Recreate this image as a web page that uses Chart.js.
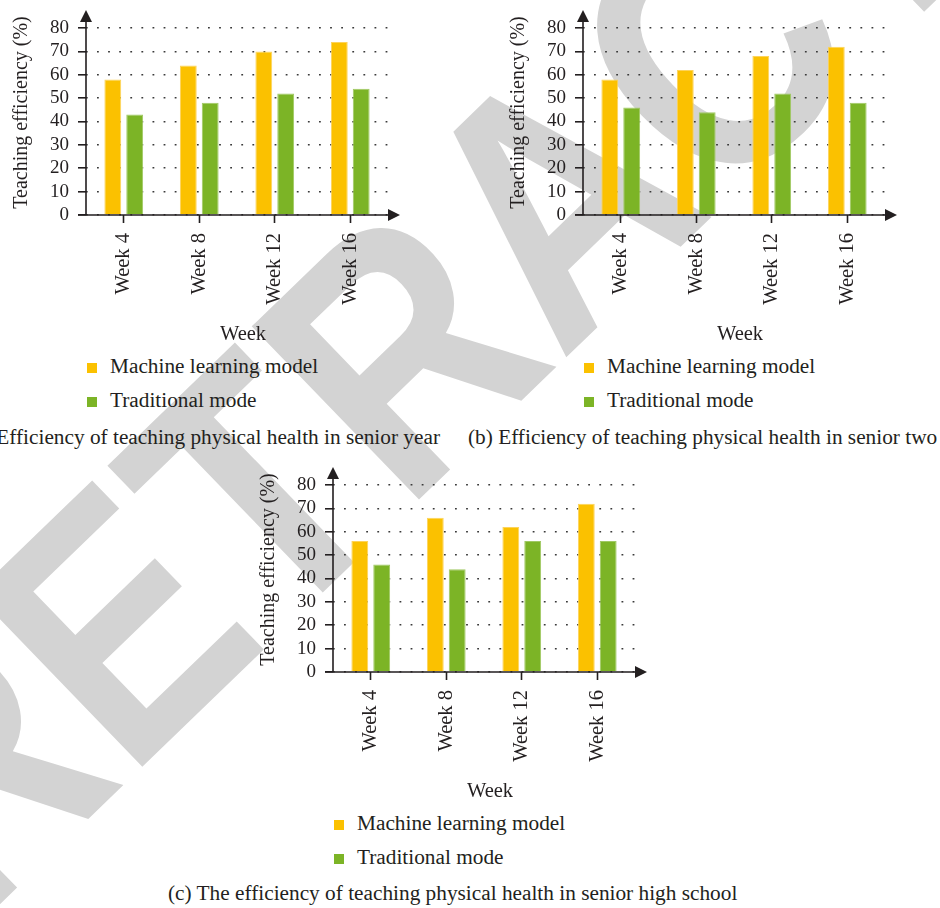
<!DOCTYPE html>
<html>
<head>
<meta charset="utf-8">
<script src="https://cdn.jsdelivr.net/npm/chart.js@4.4.0/dist/chart.umd.min.js"></script>
<style>
  body { margin: 0; width: 940px; height: 908px; overflow: hidden; background: #fff; position: relative;
         font-family: "Liberation Serif", "Times New Roman", serif; color: #231f20; }
  .stamp { position: absolute; left: 555px; top: 200px;
           transform: translate(-50%, -50%) rotate(-44deg) scaleX(0.86);
           font: bold 350px "Liberation Sans", Arial, sans-serif; color: #d3d3d3; white-space: nowrap;
           line-height: 1; z-index: 0; }
  .panel { position: absolute; width: 420px; height: 460px; z-index: 1; }
  .panel canvas { position: absolute; left: 0; top: 0; }
  .item { position: absolute; left: 87px; height: 24px; line-height: 24px; font-size: 21.3px; white-space: nowrap; }
  .item span { display: inline-block; width: 10px; height: 10px; margin-right: 13px; vertical-align: 0px; }
  .caption { position: absolute; top: 425px; height: 24px; line-height: 24px; font-size: 21.3px; white-space: nowrap; z-index: 1; }
</style>
</head>
<body>
<div class="stamp">RETRACTED</div>

<div class="panel" style="left:0px; top:0px;">
  <canvas id="chartA" width="420" height="346"></canvas>
  <div class="item" style="top:354px;"><span style="background:#fbc100"></span>Machine learning model</div>
  <div class="item" style="top:388px;"><span style="background:#7cb426"></span>Traditional mode</div>
</div>
<div class="caption" style="right:500px;">(a) Efficiency of teaching physical health in senior year</div>

<div class="panel" style="left:497px; top:0px;">
  <canvas id="chartB" width="420" height="346"></canvas>
  <div class="item" style="top:354px;"><span style="background:#fbc100"></span>Machine learning model</div>
  <div class="item" style="top:388px;"><span style="background:#7cb426"></span>Traditional mode</div>
</div>
<div class="caption" style="left:468px;">(b) Efficiency of teaching physical health in senior two</div>

<div class="panel" style="left:247px; top:457px;">
  <canvas id="chartC" width="420" height="346"></canvas>
  <div class="item" style="top:354px;"><span style="background:#fbc100"></span>Machine learning model</div>
  <div class="item" style="top:388px;"><span style="background:#7cb426"></span>Traditional mode</div>
</div>
<div class="caption" style="left:168px; top:881px;">(c) The efficiency of teaching physical health in senior high school</div>

<script>
var weeks = ['Week 4', 'Week 8', 'Week 12', 'Week 16'];
var yTicks = [0, 10, 20, 30, 40, 50, 60, 70, 80];

// senior year
var mlSenior = [58, 64, 70, 74];
var tradSenior = [43, 48, 52, 54];
// senior two
var mlTwo = [58, 62, 68, 72];
var tradTwo = [46, 44, 52, 48];
// senior high school
var mlHigh = [56, 66, 62, 72];
var tradHigh = [46, 44, 56, 56];

var ink = '#231f20';
var serif = '"Liberation Serif", "Times New Roman", serif';

// axis lines with arrow heads plus the two axis titles
var axesPlugin = {
    id: 'axes',
    afterDatasetsDraw: function(chart) {
        var ctx = chart.ctx;
        var a = chart.chartArea;
        var xEnd = a.right + 12;   // arrow tip on x
        var yEnd = a.top - 18;     // arrow tip on y
        ctx.save();
        ctx.strokeStyle = ink;
        ctx.fillStyle = ink;
        ctx.lineWidth = 1.6;
        ctx.beginPath();
        ctx.moveTo(a.left - 8, a.bottom);
        ctx.lineTo(a.right, a.bottom);
        ctx.moveTo(a.left, a.bottom);
        ctx.lineTo(a.left, yEnd + 11);
        ctx.stroke();

        ctx.beginPath();
        ctx.moveTo(xEnd, a.bottom);
        ctx.lineTo(xEnd - 12, a.bottom - 6);
        ctx.lineTo(xEnd - 12, a.bottom + 6);
        ctx.closePath();
        ctx.fill();

        ctx.beginPath();
        ctx.moveTo(a.left, yEnd);
        ctx.lineTo(a.left - 6, yEnd + 12);
        ctx.lineTo(a.left + 6, yEnd + 12);
        ctx.closePath();
        ctx.fill();

        ctx.font = '20.5px ' + serif;
        ctx.textAlign = 'center';
        ctx.textBaseline = 'middle';
        ctx.fillText('Week', (a.left + xEnd) / 2, 335);

        ctx.font = '20px ' + serif;
        ctx.translate(22, (yEnd + a.bottom) / 2);
        ctx.rotate(-Math.PI / 2);
        ctx.fillText('Teaching efficiency (%)', 0, 0);
        ctx.restore();
    }
};

function makeChart(id, ml, trad) {
    var ctx = document.getElementById(id).getContext('2d');
    return new Chart(ctx, {
        type: 'bar',
        data: {
            labels: weeks,
            datasets: [
                {
                    label: 'Machine learning model',
                    data: ml,
                    backgroundColor: '#fbc100',
                    borderColor: '#fdd35a',
                    borderWidth: 1,
                    categoryPercentage: 0.58,
                    barPercentage: 0.77
                },
                {
                    label: 'Traditional mode',
                    data: trad,
                    backgroundColor: '#7cb426',
                    borderColor: '#a0c963',
                    borderWidth: 1,
                    categoryPercentage: 0.58,
                    barPercentage: 0.77
                }
            ]
        },
        options: {
            responsive: false,
            animation: false,
            layout: { padding: { left: 0, right: 32, top: 28, bottom: 0 } },
            plugins: {
                legend: { display: false },
                tooltip: { enabled: false }
            },
            scales: {
                x: {
                    grid: {
                        offset: false,
                        drawOnChartArea: false,
                        drawTicks: true,
                        tickLength: 8,
                        tickColor: ink,
                        tickWidth: 1.6
                    },
                    border: { display: false },
                    ticks: {
                        minRotation: 90,
                        maxRotation: 90,
                        padding: 10,
                        color: ink,
                        font: { family: serif, size: 20.5 }
                    },
                    afterFit: function(scale) { scale.height = 131; }
                },
                y: {
                    min: yTicks[0],
                    max: yTicks[yTicks.length - 1],
                    afterBuildTicks: function(scale) {
                        scale.ticks = yTicks.map(function(v) { return { value: v }; });
                    },
                    ticks: {
                        autoSkip: false,
                        padding: 9,
                        color: ink,
                        font: { family: serif, size: 19 }
                    },
                    grid: {
                        color: '#3a3a3a',
                        lineWidth: 1.6,
                        tickBorderDash: [],
                        tickLength: 8,
                        tickColor: ink,
                        tickWidth: 1.6
                    },
                    // in v4 the dash of the grid lines lives on the border options
                    border: { display: false, dash: [1.8, 9.3], dashOffset: 0.1 },
                    afterFit: function(scale) { scale.width = 86; }
                }
            }
        },
        plugins: [axesPlugin]
    });
}

makeChart('chartA', mlSenior, tradSenior);
makeChart('chartB', mlTwo, tradTwo);
makeChart('chartC', mlHigh, tradHigh);
</script>
</body>
</html>
